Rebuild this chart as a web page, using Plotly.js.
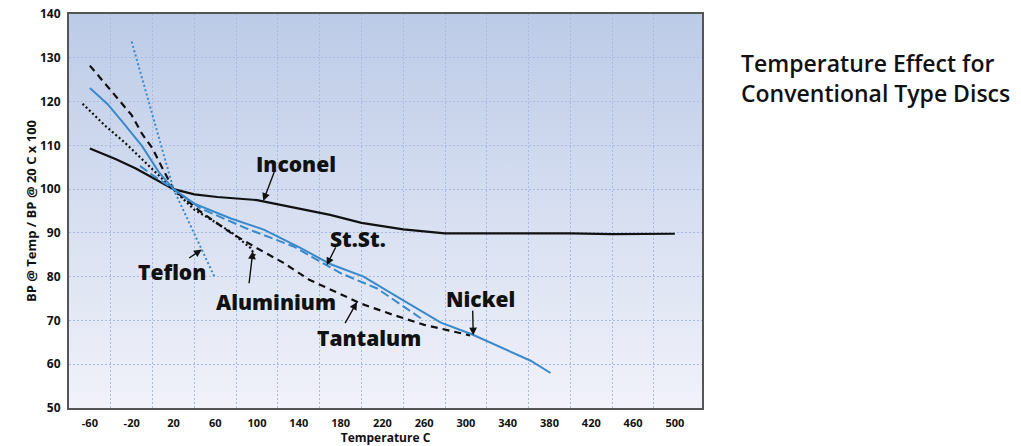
<!DOCTYPE html>
<html><head><meta charset="utf-8">
<script src="https://cdn.plot.ly/plotly-3.0.1.min.js"></script>
<style>html,body{margin:0;padding:0;background:#fff}#chart{width:1021px;height:446px}</style>
</head><body><div id="chart"></div>
<script>
// ---- data ----
const xTickVals = [-60,-20,20,60,100,140,180,220,260,300,340,380,420,460,500];
const xTickText = ['-60','-20','20','60','100','140','180','220','260','300','340','380','420','460','500'];
const xGridVals = [-40,0,40,80,120,160,200,240,280,320,360,400,440,480];
const yTickVals = [50,60,70,80,90,100,110,120,130,140];

const inconelT = [-60,-35,-16,3,20,40,62,100,140,170,200,240,280,340,400,440,500];
const inconelV = [109.3,106.8,104.7,102.2,100,98.8,98.2,97.5,95.6,94.1,92.3,90.8,89.9,89.9,89.9,89.7,89.8];

const nickelT = [-60,-43,-29,-10,6,20,40,75,107,142,170,202,240,276,305,320,362,381];
const nickelV = [123.1,119.4,115.4,109.8,103.9,100,96.7,93.3,90.7,86.5,82.9,80,74.6,69.5,66.9,65.3,60.8,58];

const ststT = [-12,0,20,46,90,135,180,215,258];
const ststV = [105.3,103.2,100,95.6,91,86.9,80.8,77.3,70.3];

const tantalumT = [-60,-40,-20,-10,0,10,20,45,75,100,125,150,180,200,230,260,304];
const tantalumV = [128.2,122.5,116.9,112.6,109.3,104.5,100,95,90,86.5,83.2,79.3,76,73.8,71.3,69,66.6];

const aluminiumT = [-67,-45,-26,-10,6,20,40,52,75,94,98];
const aluminiumV = [119.5,114.4,110.5,106.8,103.1,100,95.3,93.6,90.2,86.5,84.8];

const teflonT = [-20,20,60];
const teflonV = [133.7,100,79.6];

const labelNames = ['Inconel','St.St.','Teflon','Aluminium','Tantalum','Nickel'];

// ---- styles ----
const BLUE = '#3a89ca';
const BLACK = '#111111';
const FONT = 'Open Sans, Lato, sans-serif';

const traces = [
  {x: tantalumT, y: tantalumV, mode:'lines', line:{color:BLACK, width:2.2, dash:'7px,5px'}, name:'Tantalum'},
  {x: aluminiumT, y: aluminiumV, mode:'lines', line:{color:BLACK, width:2.2, dash:'2px,2.5px'}, name:'Aluminium'},
  {x: inconelT, y: inconelV, mode:'lines', line:{color:BLACK, width:2.2}, name:'Inconel'},
  {x: ststT, y: ststV, mode:'lines', line:{color:BLUE, width:2, dash:'9px,4px'}, name:'St.St.'},
  {x: nickelT, y: nickelV, mode:'lines', line:{color:BLUE, width:2}, name:'Nickel'},
  {x: teflonT, y: teflonV, mode:'lines', line:{color:BLUE, width:2, dash:'2px,2.5px'}, name:'Teflon'}
];

// label placement (layout only)
const labelPos = [[137.3,105.7],[196.2,88.6],[18.3,81.1],[117.9,74.3],[207.2,66.1],[313.9,74.9]];
const arrowHead = [[106,97.3,11.7,-31],[166.7,82.6,10,-20],[47,86.2,-14,9.5],[96,85.8,-4,34],[195.7,74.2,-13,23],[307,66.6,-0.6,-26.7]];

const annotations = [];
labelNames.forEach((n,i)=>{
  annotations.push({x:labelPos[i][0], y:labelPos[i][1], xref:'x', yref:'y', text:n, showarrow:false,
    font:{family:FONT, size:21, weight:800, color:BLACK}, xanchor:'center', yanchor:'middle'});
  const a = arrowHead[i];
  annotations.push({x:a[0], y:a[1], xref:'x', yref:'y', text:' ', showarrow:true, ax:a[2], ay:a[3],
    arrowhead:2, arrowsize:1.1, arrowwidth:1.4, arrowcolor:BLACK, standoff:0, startstandoff:0,
    font:{size:1}});
});

const gradSvg = "<svg xmlns='http://www.w3.org/2000/svg' viewBox='0 0 10 100' width='10' height='100' preserveAspectRatio='none'>" +
  "<defs><linearGradient id='g' x1='0' y1='0' x2='0' y2='1'><stop offset='0' stop-color='#bccbe7'/><stop offset='1' stop-color='#f1f2fa'/></linearGradient></defs>" +
  "<rect x='0' y='0' width='10' height='100' fill='url(#g)'/></svg>";

const GRID = '#a9bbe2';
const layout = {
  width:1021, height:446, autosize:false,
  margin:{l:69, r:319, t:14, b:38, pad:0},
  paper_bgcolor:'#ffffff', plot_bgcolor:'rgba(0,0,0,0)',
  showlegend:false,
  title:{text:'Temperature Effect for<br>Conventional Type Discs', x:741/1021, xref:'container', xanchor:'left',
         y:1-72/446, yref:'container', yanchor:'top',
         font:{family:FONT, size:23, weight:600, color:'#111'}},
  images:[{source:'data:image/svg+xml;charset=utf-8,'+encodeURIComponent(gradSvg), xref:'x domain', yref:'y domain',
           x:0, y:1, sizex:1, sizey:1, xanchor:'left', yanchor:'top', sizing:'stretch', layer:'below'}],
  xaxis:{range:[-80,526], tickmode:'array', tickvals:xTickVals, ticktext:xTickText, showgrid:false, zeroline:false,
         ticks:'outside', ticklen:4, tickcolor:'rgba(0,0,0,0)',
         minor:{tickmode:'array', tickvals:xGridVals, showgrid:true, gridcolor:GRID, griddash:'2px,2px', gridwidth:1, ticks:''},
         showline:true, mirror:true, linecolor:'#555', linewidth:2,
         tickfont:{family:FONT, size:11, weight:700, color:'#111'},
         title:{text:'Temperature C', font:{family:FONT, size:12, weight:700, color:'#111'}, standoff:9}},
  yaxis:{range:[50,140], tickmode:'array', tickvals:yTickVals, showgrid:true, gridcolor:GRID, griddash:'2px,2px', gridwidth:1,
         zeroline:false, ticks:'outside', ticklen:4, tickcolor:'rgba(0,0,0,0)',
         showline:true, mirror:true, linecolor:'#555', linewidth:2,
         tickfont:{family:FONT, size:12, weight:700, color:'#111'},
         title:{text:'BP @ Temp / BP @ 20 C x 100', font:{family:FONT, size:13, weight:700, color:'#111'}, standoff:0}},
  annotations:annotations
};

Plotly.newPlot('chart', traces, layout, {displayModeBar:false, staticPlot:true});
</script>
</body></html>
